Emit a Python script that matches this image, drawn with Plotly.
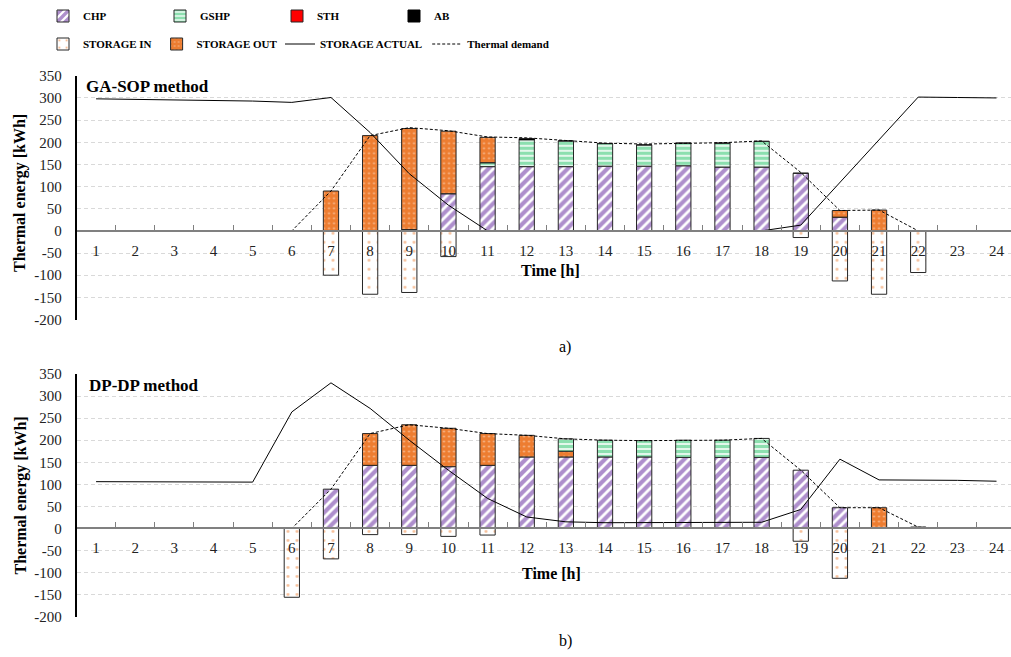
import plotly.graph_objects as go

# ---------------- data ----------------
hours = ["1", "2", "3", "4", "5", "6", "7", "8", "9", "10", "11", "12",
         "13", "14", "15", "16", "17", "18", "19", "20", "21", "22", "23", "24"]

# a) GA-SOP method
ga_chp = [0, 0, 0, 0, 0, 0, 0, 0, 0, 84, 145, 145, 145, 146, 146, 147, 144, 144, 130, 31, 0, 0, 0, 0]
ga_gshp = [0, 0, 0, 0, 0, 0, 0, 0, 0, 0, 9, 61, 58, 51, 48, 51, 54, 58, 0, 0, 0, 0, 0, 0]
ga_sth = [0] * 24
ga_ab = [0, 0, 0, 0, 0, 0, 0, 0, 3, 0, 0, 2, 0, 0, 0, 0, 0, 0, 0, 0, 0, 0, 0, 0]
ga_s_in = [0, 0, 0, 0, 0, 0, -100, -143, -139, -58, 0, 0, 0, 0, 0, 0, 0, 0, -15, -113, -143, -94, 0, 0]
ga_s_out = [0, 0, 0, 0, 0, 0, 90, 215, 228, 141, 57, 0, 0, 0, 0, 0, 0, 0, 0, 15, 47, 0, 0, 0]
ga_s_act = [298, 297, 296, 295, 293, 290, 301, 222, 129, 58, 0, 0, 0, 0, 0, 0, 0, 0, 13, 110, 205, 302, 301, 300]
ga_demand = [0, 0, 0, 0, 0, 0, 90, 215, 233, 226, 212, 210, 204, 198, 196, 198, 199, 203, 132, 46, 47, 0, 0, 0]

# b) DP-DP method
dp_chp = [0, 0, 0, 0, 0, 0, 89, 143, 143, 140, 143, 162, 162, 162, 162, 161, 161, 161, 132, 47, 0, 0, 0, 0]
dp_gshp = [0, 0, 0, 0, 0, 0, 0, 0, 0, 0, 0, 0, 28, 38, 37, 39, 39, 43, 0, 0, 0, 0, 0, 0]
dp_sth = [0] * 24
dp_ab = [0, 0, 0, 0, 0, 0, 0, 0, 0, 0, 0, 0, 0, 0, 0, 0, 0, 0, 0, 0, 0, 3, 0, 0]
dp_s_in = [0, 0, 0, 0, 0, -156, -69, -14, -14, -18, -15, 0, 0, 0, 0, 0, 0, 0, -29, -113, 0, 0, 0, 0]
dp_s_out = [0, 0, 0, 0, 0, 0, 0, 72, 92, 87, 72, 49, 13, 0, 0, 0, 0, 0, 0, 0, 47, 0, 0, 0]
dp_s_act = [106, 106, 106, 105, 105, 264, 330, 272, 200, 132, 68, 26, 15, 13, 13, 13, 13, 14, 43, 157, 110, 110, 109, 107]
dp_demand = [0, 0, 0, 0, 0, 0, 89, 215, 235, 227, 215, 211, 203, 200, 199, 200, 200, 204, 132, 47, 47, 3, 0, 0]

y_tick_vals = [-200, -150, -100, -50, 0, 50, 100, 150, 200, 250, 300, 350]
y_tick_text = ["-200", "-150", "-100", "-50", "0", "50", "100", "150", "200", "250", "300", "350"]

# ---------------- geometry ----------------
W, H = 1011, 657
FONT = "Liberation Serif"


def fy(px):
    return 1 - px / H


top_dom = [fy(319.5), fy(75.8)]
bot_dom = [fy(616.7), fy(374.0)]
x_dom = [76.5 / W, 1.0]


def zero_pos(dom):
    return dom[0] + (200 / 550) * (dom[1] - dom[0])


def nz(vals):
    return [v if v != 0 else None for v in vals]


OUT = "#262626"
PURPLE = "#5E1F9A"
GREEN = "#19C060"
ORANGE = "#ED7D31"

styles = {
    "CHP": dict(color="white", line=dict(color=OUT, width=1),
                pattern=dict(shape="/", fgcolor=PURPLE, size=7, solidity=0.6, fillmode="overlay")),
    "GSHP": dict(color="white", line=dict(color=OUT, width=1),
                 pattern=dict(shape="-", fgcolor=GREEN, size=5, solidity=0.7, fillmode="overlay")),
    "STH": dict(color="#FF0000", line=dict(color=OUT, width=1)),
    "AB": dict(color="black", line=dict(color="black", width=1)),
    "STORAGE IN": dict(color="white", line=dict(color=OUT, width=1),
                       pattern=dict(shape=".", fgcolor=ORANGE, size=9, solidity=0.08, fillmode="overlay")),
    "STORAGE OUT": dict(color=ORANGE, line=dict(color=OUT, width=1),
                        pattern=dict(shape=".", fgcolor="white", size=5, solidity=0.12, fillmode="overlay")),
}
legend_of = {"CHP": "legend", "GSHP": "legend", "STH": "legend", "AB": "legend",
             "STORAGE IN": "legend2", "STORAGE OUT": "legend2"}
rank_of = {"CHP": 1, "GSHP": 2, "STH": 3, "AB": 4, "STORAGE IN": 1, "STORAGE OUT": 2}

fig = go.Figure()

panels = [
    dict(xa="x", ya="y", show=True,
         bars=[("CHP", ga_chp), ("GSHP", ga_gshp), ("STH", ga_sth), ("AB", ga_ab),
               ("STORAGE OUT", ga_s_out), ("STORAGE IN", ga_s_in)],
         act=ga_s_act, dem=ga_demand),
    dict(xa="x2", ya="y2", show=False,
         bars=[("CHP", dp_chp), ("STORAGE OUT", dp_s_out), ("GSHP", dp_gshp), ("STH", dp_sth),
               ("AB", dp_ab), ("STORAGE IN", dp_s_in)],
         act=dp_s_act, dem=dp_demand),
]

for p in panels:
    for name, vals in p["bars"]:
        fig.add_trace(go.Bar(
            x=hours, y=nz(vals) if (not p["show"] or name != "STH") else vals,
            name=name, legendgroup=name, showlegend=p["show"],
            legend=legend_of[name], legendrank=rank_of[name],
            marker=styles[name], width=0.39,
            xaxis=p["xa"], yaxis=p["ya"],
        ))
    fig.add_trace(go.Scatter(
        x=hours, y=p["act"], mode="lines", name="STORAGE ACTUAL",
        legendgroup="act", showlegend=p["show"], legend="legend3", legendrank=1,
        line=dict(color="black", width=1), xaxis=p["xa"], yaxis=p["ya"]))
    fig.add_trace(go.Scatter(
        x=hours, y=p["dem"], mode="lines", name="Thermal demand",
        legendgroup="dem", showlegend=p["show"], legend="legend3", legendrank=2,
        line=dict(color="black", width=1, dash="3px,2px"), xaxis=p["xa"], yaxis=p["ya"]))

xcommon = dict(type="category", categoryorder="array", categoryarray=hours,
               range=[-0.5, 23.37], domain=x_dom, anchor="free",
               showline=True, linecolor="#808080", linewidth=2,
               ticks="inside", ticklen=5, tickcolor="#808080", tickwidth=1,
               tickson="boundaries", showgrid=False,
               tickfont=dict(family=FONT, size=15, color="#222"),
               ticklabelstandoff=6, automargin=False, fixedrange=True)
ycommon = dict(range=[-200, 350], tickvals=y_tick_vals, ticktext=y_tick_text,
               showline=True, linecolor="black", linewidth=1.5,
               showgrid=True, gridcolor="#d9d9d9", gridwidth=1, griddash="4px,3px",
               zeroline=False, ticks="",
               tickfont=dict(family=FONT, size=15, color="#222"),
               ticklabelstandoff=10, automargin=False, fixedrange=True)

leg_font = dict(family=FONT, size=11, color="black", weight="bold")
fig.update_layout(
    width=W, height=H,
    margin=dict(l=0, r=0, t=0, b=0),
    paper_bgcolor="white", plot_bgcolor="white",
    barmode="relative",
    font=dict(family=FONT, size=15, color="#222"),
    xaxis=dict(**xcommon, position=zero_pos(top_dom)),
    yaxis=dict(**ycommon, domain=top_dom, anchor="x"),
    xaxis2=dict(**xcommon, position=zero_pos(bot_dom)),
    yaxis2=dict(**ycommon, domain=bot_dom, anchor="x2"),
    legend=dict(orientation="h", x=43 / W, xanchor="left", y=fy(16), yanchor="middle",
                entrywidth=72, entrywidthmode="pixels", bgcolor="rgba(0,0,0,0)",
                font=leg_font, tracegroupgap=0),
    legend2=dict(orientation="h", x=43 / W, xanchor="left", y=fy(44), yanchor="middle",
                 bgcolor="rgba(0,0,0,0)", font=leg_font, tracegroupgap=0),
    legend3=dict(orientation="h", x=280 / W, xanchor="left", y=fy(44), yanchor="middle",
                 bgcolor="rgba(0,0,0,0)", font=leg_font, tracegroupgap=0),
    showlegend=True,
)

ann_font_b = dict(family=FONT, size=17, color="black", weight="bold")
annotations = [
    dict(text="GA-SOP method", x=84 / W, y=fy(87), xanchor="left", yanchor="middle", font=ann_font_b),
    dict(text="DP-DP method", x=87 / W, y=fy(385), xanchor="left", yanchor="middle", font=ann_font_b),
    dict(text="Time [h]", x=550 / W, y=fy(270), xanchor="center", yanchor="middle",
         font=dict(family=FONT, size=16, color="black", weight="bold")),
    dict(text="Time [h]", x=551 / W, y=fy(573), xanchor="center", yanchor="middle",
         font=dict(family=FONT, size=16, color="black", weight="bold")),
    dict(text="Thermal energy [kWh]", x=20 / W, y=fy(193), textangle=-90, xanchor="center", yanchor="middle",
         font=dict(family=FONT, size=16, color="black", weight="bold")),
    dict(text="Thermal energy [kWh]", x=20 / W, y=fy(495.5), textangle=-90, xanchor="center", yanchor="middle",
         font=dict(family=FONT, size=16, color="black", weight="bold")),
    dict(text="a)", x=565 / W, y=fy(347), xanchor="center", yanchor="middle",
         font=dict(family=FONT, size=16, color="black")),
    dict(text="b)", x=565 / W, y=fy(641), xanchor="center", yanchor="middle",
         font=dict(family=FONT, size=16, color="black")),
]
for a in annotations:
    fig.add_annotation(xref="paper", yref="paper", showarrow=False, **a)

fig.write_html("out.html", config={"displayModeBar": False},
               post_script="document.body.style.margin='0px';document.body.style.overflow='hidden';")
